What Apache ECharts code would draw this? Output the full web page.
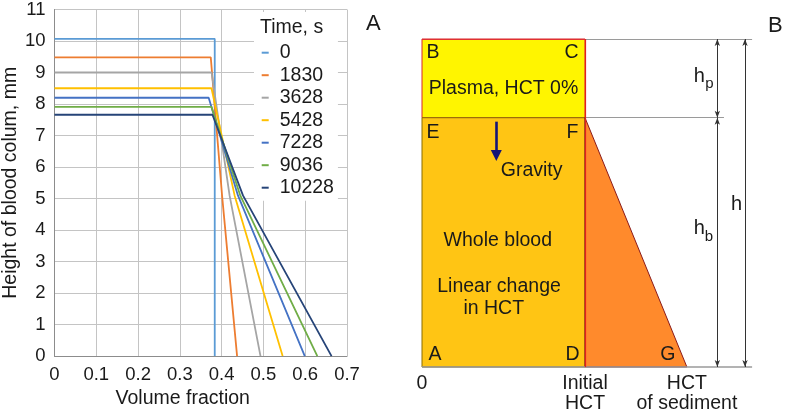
<!DOCTYPE html>
<html>
<head>
<meta charset="utf-8">
<script src="https://cdn.jsdelivr.net/npm/echarts@6/dist/echarts.min.js"></script>
<style>html,body{margin:0;padding:0;background:#fff}#c{width:785px;height:414px}</style>
</head>
<body>
<div id="c"></div>
<script>
// ---------- Panel A data ----------
const times = ['0', '1830', '3628', '5428', '7228', '9036', '10228'];
const plateauHeight = [10.07, 9.48, 9.0, 8.5, 8.2, 7.91, 7.66];
const plateauEnd = [0.3835, 0.374, 0.376, 0.3757, 0.369, 0.3757, 0.378];
const midHeight = 5.1;
const fractionAtMid = [0.3835, 0.401, 0.419, 0.431, 0.439, 0.4445, 0.451];
const sedimentFraction = [0.3835, 0.437, 0.493, 0.546, 0.599, 0.629, 0.663];
const xTicks = [0, 0.1, 0.2, 0.3, 0.4, 0.5, 0.6, 0.7];
const yTicks = [0, 1, 2, 3, 4, 5, 6, 7, 8, 9, 10, 11];

// ---------- Panel B (schematic) data ----------
const hctInitial = 0.4;
const hctSediment = 0.65;
const hTotal = 10;
const hBlood = 7.6;
const bottomLabels = ['0', 'Initial\nHCT', 'HCT\nof sediment'];
const cornerNames = ['B', 'C', 'E', 'F', 'A', 'D', 'G'];

const FONT = 'Liberation Sans, Arial, sans-serif';
const colors = ['#5B9BD5', '#ED7D31', '#A5A5A5', '#FFC000', '#4472C4', '#70AD47', '#264478'];

const seriesA = times.map((t, i) => ({
  name: t,
  type: 'line',
  xAxisIndex: 0, yAxisIndex: 0,
  symbol: 'none',
  color: colors[i],
  lineStyle: { width: 1.8, color: colors[i] },
  data: [
    [0, plateauHeight[i]],
    [plateauEnd[i], plateauHeight[i]],
    [fractionAtMid[i], midHeight],
    [sedimentFraction[i], 0]
  ]
}));

// polygons of schematic
const regions = [
  { name: 'plasma', pts: [[0, hBlood], [hctInitial, hBlood], [hctInitial, hTotal], [0, hTotal]], fill: '#FFF500', stroke: '#D8262A' },
  { name: 'blood', pts: [[0, 0], [hctInitial, 0], [hctInitial, hBlood], [0, hBlood]], fill: '#FFC514', stroke: '#8A6D00' },
  { name: 'sediment', pts: [[hctInitial, 0], [hctSediment, 0], [hctInitial, hBlood]], fill: '#FF8A2C', stroke: '#8B1A1A' }
];
const cornerPts = [[0, hTotal], [hctInitial, hTotal], [0, hBlood], [hctInitial, hBlood], [0, 0], [hctInitial, 0], [hctSediment, 0]];
const cornerOffset = { B: [11, 14], C: [-13.5, 14], E: [11, 15], F: [-12.5, 15], A: [13, -12], D: [-12.5, -12], G: [-19, -12] };

const diagramTexts = [
  { text: 'Plasma, HCT 0%', coord: [0.2, 8.5] },
  { text: 'Gravity', coord: [0.269, 6.0] },
  { text: 'Whole blood', coord: [0.186, 3.86] },
  { text: 'Linear change', coord: [0.189, 2.46] },
  { text: 'in HCT', coord: [0.176, 1.79] }
];
const guideEndLong = 0.81, guideEndShort = 0.741;
const dimXInner = 0.7247, dimXOuter = 0.7926;
const gravityX = 0.1823, gravityTop = 7.48, gravityTip = 6.45;

function txt(x, y, text, size, extra) {
  return Object.assign({ type: 'text', x: x, y: y, style: { text: text, fill: '#1a1a1a', fontSize: size, fontFamily: FONT, align: 'center', verticalAlign: 'middle' } }, extra || {});
}

const polySeries = {
  type: 'custom', xAxisIndex: 1, yAxisIndex: 1, silent: true, clip: false, z: 2,
  data: regions.map((r, i) => [i, 0]),
  renderItem: function (params, api) {
    const r = regions[params.dataIndex];
    return { type: 'polygon', shape: { points: r.pts.map(p => api.coord(p)) }, style: { fill: r.fill, stroke: r.stroke, lineWidth: 1 } };
  }
};
const textSeries = {
  type: 'custom', xAxisIndex: 1, yAxisIndex: 1, silent: true, clip: false, z: 5,
  data: [[0, 0]],
  renderItem: function (params, api) {
    const children = [];
    cornerNames.forEach((n, i) => {
      const p = api.coord(cornerPts[i]);
      const o = cornerOffset[n];
      children.push(txt(p[0] + o[0], p[1] + o[1], n, 19.5));
    });
    diagramTexts.forEach(d => {
      const p = api.coord(d.coord);
      children.push(txt(p[0], p[1], d.text, 19.5));
    });
    // dimension labels
    const hp = api.coord([dimXInner, (hTotal + hBlood) / 2]);
    children.push(txt(hp[0] - 18, hp[1] - 1.5, 'h', 20));
    children.push(txt(hp[0] - 8, hp[1] + 5.5, 'p', 15));
    const hb = api.coord([dimXInner, 4.22]);
    children.push(txt(hb[0] - 18, hb[1], 'h', 20));
    children.push(txt(hb[0] - 8.5, hb[1] + 8, 'b', 15));
    const hh = api.coord([dimXOuter, 4.95]);
    children.push(txt(hh[0] - 8.5, hh[1], 'h', 20));
    return { type: 'group', children: children };
  }
};

const dimStyle = { color: '#333', width: 1, type: 'solid' };
const guideStyle = { color: '#9a9a9a', width: 1, type: 'solid' };
const guideSeries = {
  type: 'line', xAxisIndex: 1, yAxisIndex: 1, data: [], silent: true, z: 1,
  markLine: {
    silent: true, animation: false, label: { show: false }, symbol: ['none', 'none'],
    emphasis: { disabled: true },
    data: [
      [{ coord: [hctInitial, hTotal], lineStyle: guideStyle }, { coord: [guideEndLong, hTotal] }],
      [{ coord: [hctInitial, hBlood], lineStyle: guideStyle }, { coord: [guideEndShort, hBlood] }],
      [{ coord: [0, 0], lineStyle: { color: '#9a9a9a', width: 1.5, type: 'solid' } }, { coord: [guideEndLong, 0] }]
    ]
  }
};
const arrowSeries = {
  type: 'line', xAxisIndex: 1, yAxisIndex: 1, data: [], silent: true, z: 6,
  markLine: {
    silent: true, animation: false, label: { show: false }, symbol: ['arrow', 'arrow'], symbolSize: [4, 7],
    emphasis: { disabled: true },
    data: [
      [{ coord: [dimXInner, hTotal], lineStyle: dimStyle }, { coord: [dimXInner, hBlood] }],
      [{ coord: [dimXInner, hBlood], lineStyle: dimStyle }, { coord: [dimXInner, 0] }],
      [{ coord: [dimXOuter, hTotal], lineStyle: dimStyle }, { coord: [dimXOuter, 0] }],
      [{ coord: [gravityX, gravityTop], symbol: 'none', lineStyle: { color: '#141478', width: 2.6, type: 'solid' } },
       { coord: [gravityX, gravityTip], symbol: 'triangle', symbolSize: [11, 11], itemStyle: { color: '#141478' } }]
    ]
  }
};
const redEdgeSeries = {
  type: 'line', xAxisIndex: 1, yAxisIndex: 1, data: [], silent: true, z: 3,
  markLine: {
    silent: true, animation: false, label: { show: false }, symbol: ['none', 'none'],
    emphasis: { disabled: true },
    data: [
      [{ coord: [hctInitial, 0], lineStyle: { color: '#E02020', width: 1.2, type: 'solid' } }, { coord: [hctInitial, hTotal] }],
      [{ coord: [0, hTotal], lineStyle: { color: '#E03030', width: 1.2, type: 'solid' } }, { coord: [hctInitial, hTotal] }]
    ]
  }
};

const chart = echarts.init(document.getElementById('c'), null, { renderer: 'canvas' });
chart.setOption({
  animation: false,
  backgroundColor: '#fff',
  textStyle: { fontFamily: FONT },
  title: [
    { text: 'Time, s', left: 260, top: 18, padding: 0, textStyle: { fontSize: 19.5, fontWeight: 'normal', color: '#1a1a1a', fontFamily: FONT, lineHeight: 20 }, z: 10 },
    { text: 'A', left: 366, top: 13, padding: 0, textStyle: { fontSize: 22, fontWeight: 'normal', color: '#1a1a1a', fontFamily: FONT } },
    { text: 'B', left: 768, top: 15, padding: 0, textStyle: { fontSize: 22, fontWeight: 'normal', color: '#1a1a1a', fontFamily: FONT } }
  ],
  legend: {
    orient: 'vertical', left: 254, top: 12,
    padding: [30.7, 4, 3, 7.7],
    backgroundColor: '#fff',
    icon: 'rect', itemWidth: 7, itemHeight: 2, itemGap: 2.5,
    selectedMode: false,
    data: times,
    textStyle: { fontSize: 19.5, color: '#1a1a1a', fontFamily: FONT, lineHeight: 20, padding: [0, 0, 0, 6] },
    z: 8
  },
  grid: [
    { left: 52, right: 438, top: 9, bottom: 46 },
    { left: 422, right: 16.6, top: 39, bottom: 46 }
  ],
  xAxis: [
    {
      type: 'value', gridIndex: 0, min: 0, max: 0.7, interval: 0.1,
      name: 'Volume fraction', nameLocation: 'middle', nameGap: 29,
      nameTextStyle: { fontSize: 19.5, color: '#1a1a1a', fontFamily: FONT, padding: [0, 36, 0, 0] },
      axisLine: { show: true, lineStyle: { color: '#8c8c8c', width: 1 } },
      axisTick: { show: false },
      axisLabel: { fontSize: 18.5, color: '#1a1a1a', margin: 9, fontFamily: FONT, formatter: v => (Math.abs(v) < 1e-9 ? '0' : v.toFixed(1)) },
      splitLine: { show: true, lineStyle: { color: '#c4c4c4', width: 1 } }
    },
    {
      type: 'value', gridIndex: 1, min: 0, max: 0.85,
      axisLine: { show: false }, axisTick: { show: false }, splitLine: { show: false },
      axisLabel: {
        show: true, customValues: [0, hctInitial, hctSediment], margin: 7,
        fontSize: 19.5, lineHeight: 20, color: '#1a1a1a', fontFamily: FONT, align: 'center',
        formatter: v => {
          const vals = [0, hctInitial, hctSediment];
          const k = vals.findIndex(x => Math.abs(x - v) < 1e-6);
          return k >= 0 ? bottomLabels[k] : '';
        }
      }
    }
  ],
  yAxis: [
    {
      type: 'value', gridIndex: 0, min: 0, max: 11, interval: 1,
      name: 'Height of blood colum, mm', nameLocation: 'middle', nameGap: 30,
      nameTextStyle: { fontSize: 19.5, color: '#1a1a1a', fontFamily: FONT },
      axisLine: { show: true, lineStyle: { color: '#8c8c8c', width: 1 } },
      axisTick: { show: false },
      axisLabel: { fontSize: 18.5, color: '#1a1a1a', margin: 9, fontFamily: FONT },
      splitLine: { show: true, lineStyle: { color: '#c4c4c4', width: 1 } }
    },
    { type: 'value', gridIndex: 1, min: 0, max: hTotal, show: false }
  ],
  series: seriesA.concat([guideSeries, polySeries, redEdgeSeries, arrowSeries, textSeries])
});
</script>
</body>
</html>
